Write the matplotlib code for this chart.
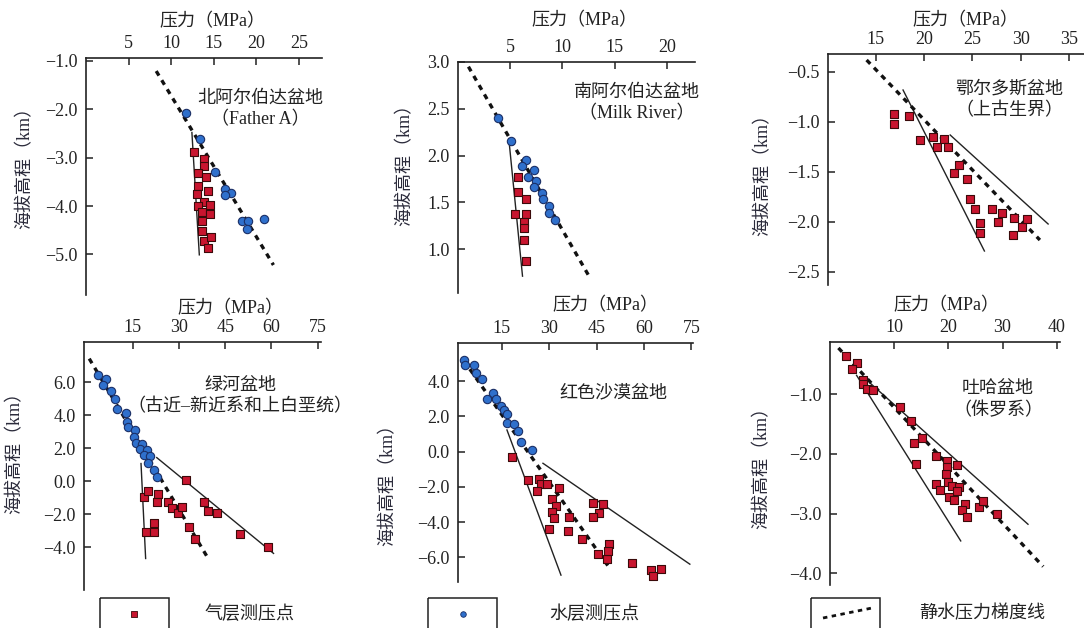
import numpy as np
import matplotlib
matplotlib.use("Agg")
import matplotlib.pyplot as plt
from matplotlib.patches import Rectangle

plt.rcParams['font.family'] = ['Liberation Serif', 'Noto Sans CJK SC']
plt.rcParams['axes.unicode_minus'] = True

W, H = 1084, 628
RED, BLUE = '#c8152f', '#2f70cc'
FS = 13

# ---- data (pressure MPa, elevation km) ----
# 北阿尔伯达盆地 (Father A)
p1_gas_p = [12.7, 13.8, 13.9, 13.1, 14.1, 13.1, 14.3, 13.0, 13.8, 13.2, 14.5, 13.6, 14.6, 13.6, 13.6, 13.9, 14.7, 14.3]
p1_gas_z = [-2.89, -3.03, -3.17, -3.32, -3.41, -3.59, -3.70, -3.75, -3.91, -4.01, -3.98, -4.12, -4.17, -4.32, -4.52, -4.72, -4.65, -4.86]
p1_wat_p = [11.76, 13.33, 15.18, 16.35, 17.0, 16.35, 18.3, 18.98, 18.9, 20.86]
p1_wat_z = [-2.07, -2.62, -3.30, -3.65, -3.74, -3.77, -4.32, -4.30, -4.48, -4.26]
p1_hydro = ([8.24, 22.0], [-1.21, -5.22])
p1_lines = [([12.43, 13.3], [-2.48, -5.01])]

# 南阿尔伯达盆地 (Milk River)
p2_gas_p = [5.7, 5.7, 6.5, 5.48, 6.5, 6.34, 6.34, 6.34, 6.5]
p2_gas_z = [1.77, 1.61, 1.53, 1.37, 1.37, 1.29, 1.22, 1.10, 0.87]
p2_wat_p = [3.79, 5.06, 6.5, 6.1, 7.3, 6.75, 7.45, 7.3, 8.0, 8.1, 8.76, 8.76, 9.3]
p2_wat_z = [2.40, 2.16, 1.95, 1.89, 1.85, 1.77, 1.73, 1.66, 1.60, 1.54, 1.46, 1.39, 1.31]
p2_hydro = ([1.0, 12.6], [2.95, 0.70])
p2_lines = [([4.9, 6.18], [2.14, 0.71])]

# 鄂尔多斯盆地 (上古生界)
p3_gas_p = [16.9, 16.9, 18.5, 19.55, 20.9, 21.3, 22.1, 22.5, 23.56, 23.05, 24.4, 24.7, 25.3, 25.8, 25.8, 27.0, 27.6, 28.0, 29.3, 29.2, 30.1, 30.6]
p3_gas_z = [-0.92, -1.02, -0.94, -1.18, -1.15, -1.25, -1.17, -1.25, -1.43, -1.51, -1.57, -1.77, -1.87, -2.01, -2.11, -1.87, -2.0, -1.91, -1.96, -2.13, -2.05, -1.97]
p3_wat_p = []
p3_wat_z = []
p3_hydro = ([14.08, 31.95], [-0.38, -2.18])
p3_lines = [([17.84, 26.23], [-0.68, -2.29]), ([22.7, 32.8], [-1.13, -2.02])]

# 绿河盆地 (古近-新近系和上白垩统)
p4_gas_p = [32.2, 18.8, 20.1, 23.3, 22.8, 26.6, 27.7, 29.8, 31.1, 38.2, 39.3, 42.3, 19.2, 22.0, 22.0, 33.3, 35.3, 49.9, 58.9]
p4_gas_z = [0.10, -0.95, -0.61, -0.79, -1.29, -1.29, -1.62, -1.96, -1.56, -1.25, -1.80, -1.96, -3.07, -2.53, -3.07, -2.77, -3.52, -3.21, -3.98]
p4_wat_p = [3.6, 6.5, 5.25, 8.0, 9.3, 9.8, 12.8, 13.0, 13.4, 15.8, 15.4, 16.1, 17.9, 17.4, 19.5, 18.7, 20.6, 20.1, 21.9, 23.0]
p4_wat_z = [6.42, 6.18, 5.82, 5.47, 4.97, 4.40, 4.14, 3.60, 3.29, 3.13, 2.69, 2.34, 2.24, 1.94, 1.88, 1.58, 1.54, 1.13, 0.67, 0.26]
p4_hydro = ([0.9, 39.3], [7.43, -4.63])
p4_lines = [([17.7, 19.2], [1.07, -4.69]), ([22.8, 60.7], [1.43, -4.38])]

# 红色沙漠盆地
p5_gas_p = [18.2, 23.4, 26.9, 27.3, 26.05, 29.4, 33.2, 31.0, 32.05, 30.8, 31.5, 30.05, 36.3, 36.05, 40.3, 43.9, 47.1, 45.8, 43.9, 45.5, 48.2, 49.0, 48.7, 56.1, 62.2, 65.3, 62.9]
p5_gas_z = [-0.32, -1.61, -1.55, -1.84, -2.22, -1.84, -2.08, -2.71, -3.07, -3.41, -3.75, -4.36, -3.69, -4.49, -4.98, -2.90, -2.94, -3.45, -3.73, -5.81, -6.06, -5.21, -5.63, -6.31, -6.69, -6.65, -7.06]
p5_wat_p = [2.9, 3.4, 6.3, 6.9, 8.7, 12.2, 10.3, 13.2, 14.7, 15.7, 16.6, 16.6, 18.9, 19.95, 21.0, 24.5]
p5_wat_z = [5.2, 4.92, 4.92, 4.45, 4.13, 3.31, 2.97, 2.97, 2.61, 2.37, 2.14, 1.65, 1.55, 1.19, 0.53, 0.09]
p5_hydro = ([2.9, 49.2], [5.17, -6.63])
p5_lines = [([16.6, 33.7], [1.23, -7.0]), ([28.0, 74.5], [-0.66, -6.38])]

# 吐哈盆地 (侏罗系)
p6_gas_p = [1.2, 3.1, 2.2, 4.2, 4.2, 5.0, 6.1, 11.1, 13.1, 15.1, 13.7, 14.0, 17.7, 19.7, 19.7, 21.7, 19.6, 17.7, 18.5, 19.9, 20.6, 22.0, 21.7, 20.2, 21.1, 23.1, 22.45, 23.4, 25.7, 26.4, 28.9]
p6_gas_z = [-0.36, -0.47, -0.57, -0.75, -0.83, -0.91, -0.93, -1.21, -1.44, -1.73, -1.82, -2.17, -2.03, -2.12, -2.22, -2.19, -2.34, -2.50, -2.61, -2.47, -2.54, -2.55, -2.62, -2.73, -2.78, -2.84, -2.94, -3.06, -2.89, -2.79, -3.0]
p6_wat_p = []
p6_wat_z = []
p6_hydro = ([-0.25, 37.5], [-0.22, -3.89])
p6_lines = [([3.1, 22.3], [-0.68, -3.46]), ([5.6, 34.7], [-0.81, -3.18])]

titles = [["北阿尔伯达盆地", "（Father A）"],
          ["南阿尔伯达盆地", "（Milk River）"],
          ["鄂尔多斯盆地", "（上古生界）"],
          ["绿河盆地", "（古近–新近系和上白垩统）"],
          ["红色沙漠盆地"],
          ["吐哈盆地", "（侏罗系）"]]
xticks = [[5, 10, 15, 20, 25], [5, 10, 15, 20], [15, 20, 25, 30, 35],
          [15, 30, 45, 60, 75], [15, 30, 45, 60, 75], [10, 20, 30, 40]]
yticks = [[-5, -4, -3, -2, -1], [1.0, 1.5, 2.0, 2.5, 3.0], [-2.5, -2.0, -1.5, -1.0, -0.5],
          [-4, -2, 0, 2, 4, 6], [-6, -4, -2, 0, 2, 4], [-4, -3, -2, -1]]
xlims = [(0, 27.7), (0, 22.7), (10.1, 36.5), (-0.8, 76.1), (1.1, 75.5), (-1.8, 40.6)]
ylims = [(-5.84, -0.94), (0.53, 3.0), (-2.63, -0.32), (-6.6, 8.44), (-7.39, 6.16), (-4.2, -0.12)]

panels = [
    (p1_gas_p, p1_gas_z, p1_wat_p, p1_wat_z, p1_hydro, p1_lines),
    (p2_gas_p, p2_gas_z, p2_wat_p, p2_wat_z, p2_hydro, p2_lines),
    (p3_gas_p, p3_gas_z, p3_wat_p, p3_wat_z, p3_hydro, p3_lines),
    (p4_gas_p, p4_gas_z, p4_wat_p, p4_wat_z, p4_hydro, p4_lines),
    (p5_gas_p, p5_gas_z, p5_wat_p, p5_wat_z, p5_hydro, p5_lines),
    (p6_gas_p, p6_gas_z, p6_wat_p, p6_wat_z, p6_hydro, p6_lines),
]

# ---- layout in pixels: axes box (left, right, top, bottom), label / title anchors ----
boxes = [(86, 322, 58, 295), (458, 695, 62, 293), (828, 1084, 54, 285),
         (84, 321, 342, 590), (458, 693, 343, 582), (830, 1060, 342, 585)]
xlab_pos = [(212, 22), (584, 21), (965, 21), (230, 309), (605, 306), (946, 306)]
ylab_pos = [(25, 163), (405, 160), (763, 170), (15, 448), (388, 480), (762, 463)]
title_pos = [(260, 98), (637, 92), (1009, 89), (240, 385), (613, 393), (998, 389)]


def fx(x):
    return x / W


def fy(y):
    return 1 - y / H


fig = plt.figure(figsize=(W / 100, H / 100), dpi=100)

for i, (gp, gz, wp, wz, hydro, lines) in enumerate(panels):
    l, r, t, b = boxes[i]
    ax = fig.add_axes([fx(l), fy(b), (r - l) / W, (b - t) / H])
    for s in ('right', 'bottom'):
        ax.spines[s].set_visible(False)
    for s in ('left', 'top'):
        ax.spines[s].set_linewidth(1.2)
        ax.spines[s].set_color('#222222')
    ax.xaxis.tick_top()
    ax.tick_params(direction='in', length=5, width=1.1, labelsize=FS,
                   colors='#222222')
    ax.tick_params(axis='y', pad=6)
    ax.tick_params(axis='x', pad=4)
    ax.set_xlim(*xlims[i])
    ax.set_ylim(*ylims[i])
    ax.set_xticks(xticks[i])
    ax.set_yticks(yticks[i])
    ax.set_yticklabels([f"{v:.1f}".replace('-', '\u2212') for v in yticks[i]])

    for lx, ly in lines:
        ax.plot(lx, ly, color='#222222', lw=1.0, zorder=2)
    ax.plot(hydro[0], hydro[1], color='#111111', lw=2.4,
            linestyle=(0, (1.6, 1.6)), zorder=3)
    ax.scatter(wp, wz, s=36, marker='o', facecolor=BLUE, edgecolor='#1b2f66',
               linewidth=0.8, zorder=4)
    ax.scatter(gp, gz, s=30, marker='s', facecolor=RED, edgecolor='#3a0a0a',
               linewidth=0.8, zorder=5)

    x, y = xlab_pos[i]
    fig.text(fx(x), fy(y), "压力（MPa）", ha='center', va='center',
             fontsize=FS, color='#222222')
    x, y = ylab_pos[i]
    fig.text(fx(x), fy(y), "海拔高程（km）", ha='center', va='center',
             rotation=90, fontsize=FS, color='#2a2a3a')
    x, y = title_pos[i]
    for k, line in enumerate(titles[i]):
        fig.text(fx(x), fy(y + 22 * k), line, ha='center', va='center',
                 fontsize=FS, color='#222222')

# ---- legend strip at the bottom ----
lg = fig.add_axes([0, 0, 1, 1], facecolor='none')
lg.set_xlim(0, W)
lg.set_ylim(H, 0)
lg.axis('off')
for bx in (100, 428, 811):
    lg.add_patch(Rectangle((bx, 598), 69, 40, fill=False, lw=1.1,
                           edgecolor='#222222', clip_on=False))
lg.scatter([134], [614], s=14, marker='s', facecolor=RED, edgecolor='#3a0a0a', linewidth=0.6)
lg.scatter([463], [614], s=16, marker='o', facecolor=BLUE, edgecolor='#1b2f66', linewidth=0.6)
lg.plot([823, 872], [618, 608], color='#111111', lw=2.0, linestyle=(0, (1.6, 1.6)))
lg.text(205, 614, "气层测压点", va='center', ha='left', fontsize=FS, color='#222222')
lg.text(549, 614, "水层测压点", va='center', ha='left', fontsize=FS, color='#222222')
lg.text(919, 614, "静水压力梯度线", va='center', ha='left', fontsize=FS, color='#222222')

fig.savefig("out.png", dpi=100, facecolor='white')
